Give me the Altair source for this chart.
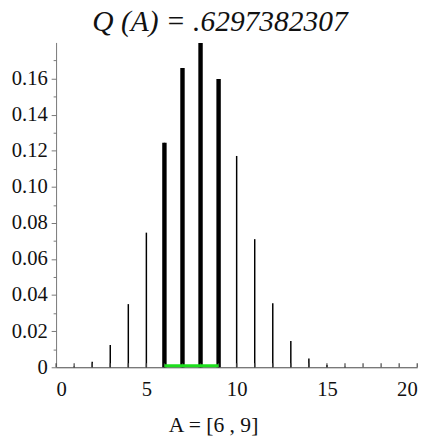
import altair as alt
import pandas as pd

k_values = list(range(0, 21))
probs = [0.00004, 0.0005, 0.0031, 0.0123, 0.0350, 0.0746, 0.1244, 0.1659, 0.1797, 0.1597,
         0.1171, 0.0710, 0.0355, 0.0146, 0.0049, 0.0013, 0.0003, 0.00004, 0.0, 0.0, 0.0]
in_set = [6, 7, 8, 9]
set_lo, set_hi = 6, 9
title_text = "Q (A) = .6297382307"
x_title = "A =  [6 , 9]"

df = pd.DataFrame({"k": k_values, "p": probs})
df["inA"] = df["k"].isin(in_set)
seg = pd.DataFrame({"a": [set_lo], "b": [set_hi]})

W, H = 368, 331
serif = "Liberation Serif"

xscale = alt.Scale(domain=[0, 20], nice=False, zero=False)
yscale = alt.Scale(domain=[0, 0.18], nice=False)

xaxis = alt.Axis(values=[0, 5, 10, 15, 20], format="d", title=x_title, grid=False,
                 domainColor="#444", tickColor="#444", tickSize=0, labelFont=serif,
                 labelFontSize=21, labelColor="#111", labelPadding=12,
                 titleFont=serif, titleFontSize=22, titleFontWeight="normal",
                 titleColor="#111", titleBaseline="alphabetic", titleAlign="center",
                 titleX=160, titleY=65)
yaxis = alt.Axis(values=[0, 0.02, 0.04, 0.06, 0.08, 0.10, 0.12, 0.14, 0.16],
                 labelExpr="datum.value == 0 ? '0' : format(datum.value, '.2f')",
                 title=None, grid=False, domainColor="#777", tickColor="#777", tickSize=5,
                 labelFont=serif, labelFontSize=21, labelColor="#111", labelPadding=4)
yaxis_minor = alt.Axis(values=[0.01, 0.03, 0.05, 0.07, 0.09, 0.11, 0.13, 0.15, 0.17],
                       labels=False, title=None, grid=False, domain=False, tickColor="#777",
                       tickSize=3, orient="left")

base = alt.Chart(df)
thin = base.mark_rule(color="black", strokeWidth=1.5).encode(
    x=alt.X("k:Q", scale=xscale, axis=xaxis),
    y=alt.Y("p:Q", scale=yscale, axis=yaxis),
    y2=alt.datum(0),
)
thick = base.transform_filter("datum.inA").mark_rule(color="black", strokeWidth=4.5).encode(
    x=alt.X("k:Q", scale=xscale),
    y=alt.Y("p:Q", scale=yscale, axis=yaxis_minor),
    y2=alt.datum(0),
)
xticks = base.mark_rule(color="#444", strokeWidth=1.2).encode(
    x=alt.X("k:Q", scale=xscale),
    y=alt.value(H),
    y2=alt.value(H - 4),
)
green = alt.Chart(seg).mark_rule(color="#1ee01e", strokeWidth=3).encode(
    x=alt.X("a:Q", scale=xscale),
    x2="b:Q",
    y=alt.value(H - 1.5),
)

chart = alt.layer(thin, thick, xticks, green).resolve_axis(y="independent").properties(
    width=W, height=H,
    title=alt.TitleParams(title_text, font=serif, fontSize=30, fontStyle="italic",
                          fontWeight="normal", color="#111", offset=4, dx=-17),
    autosize=alt.AutoSizeParams(type="none"),
    padding={"left": 49, "top": 31, "right": 12, "bottom": 70},
).configure_view(stroke=None)

chart.save("out.html", embed_options={"renderer": "svg", "actions": False})
